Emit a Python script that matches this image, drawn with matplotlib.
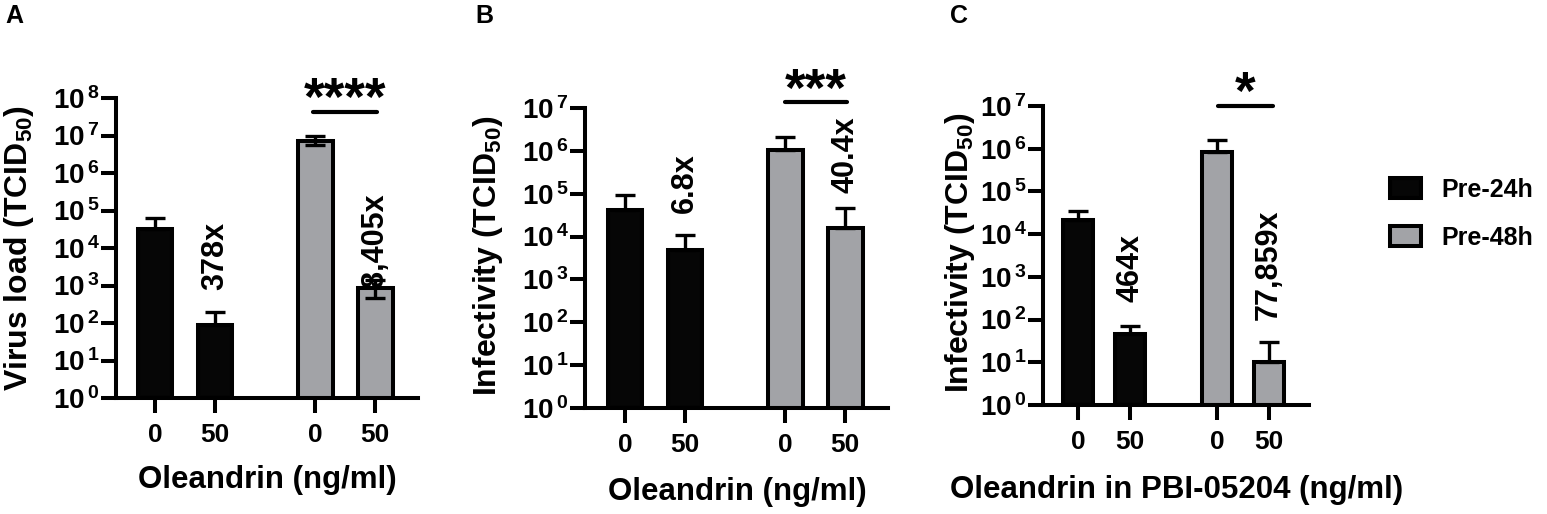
import matplotlib
matplotlib.use("Agg")
import matplotlib.pyplot as plt
import numpy as np
from matplotlib.patches import Patch
from matplotlib.ticker import FixedLocator, FuncFormatter, NullLocator

plt.rcParams["font.family"] = ["Liberation Sans", "DejaVu Sans"]
plt.rcParams["font.weight"] = "bold"
plt.rcParams["mathtext.fontset"] = "custom"
plt.rcParams["mathtext.rm"] = "Liberation Sans:bold"
plt.rcParams["mathtext.it"] = "Liberation Sans:bold"
plt.rcParams["mathtext.bf"] = "Liberation Sans:bold"
plt.rcParams["mathtext.sf"] = "Liberation Sans:bold"

# data
doses = ["0", "50", "0", "50"]
groups = ["Pre-24h", "Pre-48h"]
xpos = [0, 1, 2.667, 3.667]

a_mean = [3.3e4, 90, 7.1e6, 840]
a_low = [3.3e4, 90, 5.6e6, 470]
a_high = [6.3e4, 200, 9.7e6, 1400]

b_mean = [4.2e4, 4.8e3, 1.07e6, 1.6e4]
b_low = [4.2e4, 4.8e3, 1.07e6, 1.6e4]
b_high = [9.1e4, 1.1e4, 2.1e6, 4.6e4]

c_mean = [2.1e4, 45, 8.5e5, 10.3]
c_low = [2.1e4, 45, 8.5e5, 10.3]
c_high = [3.4e4, 72, 1.6e6, 30]

a_fold = ["378x", "8,405x"]
b_fold = ["6.8x", "40.4x"]
c_fold = ["464x", "77,859x"]

BLACK = "#060606"
GREY = "#a2a3a7"
colors = [BLACK, BLACK, GREY, GREY]

W, H = 1547, 514
fig = plt.figure(figsize=(W / 100, H / 100), dpi=100)


def box(x0, y0, x1, y1):
    return [x0 / W, 1 - y1 / H, (x1 - x0) / W, (y1 - y0) / H]


def fx(x):
    return x / W


def fy(y):
    return 1 - y / H


panels = [
    dict(rect=box(116, 98, 418, 398), top=8, mean=a_mean, low=a_low, high=a_high,
         fold=a_fold, fold_y=[10**2.88, 10**2.96], stars="****", star_y=10**7.55,
         line_y=10**7.63, line_x=(2.63, 3.70), xlim=(-0.65, 4.38),
         ylabel="Virus load (TCID$_{50}$)", ylab_xy=(19, 248),
         xlabel="Oleandrin (ng/ml)", xlab_xy=(267, 480), letter="A", letter_xy=(5, 4)),
    dict(rect=box(585, 108, 888, 408), top=7, mean=b_mean, low=b_low, high=b_high,
         fold=b_fold, fold_y=[10**4.56, 10**5.02], stars="***", star_y=10**7.04,
         line_y=10**7.15, line_x=(2.667, 3.695), xlim=(-0.667, 4.38),
         ylabel="Infectivity (TCID$_{50}$)", ylab_xy=(488, 256),
         xlabel="Oleandrin (ng/ml)", xlab_xy=(737, 492), letter="B", letter_xy=(475, 4)),
    dict(rect=box(1043, 106, 1309, 405), top=7, mean=c_mean, low=c_low, high=c_high,
         fold=c_fold, fold_y=[10**2.42, 10**1.99], stars="*", star_y=10**6.92,
         line_y=10**7.0, line_x=(2.69, 3.74), xlim=(-0.68, 4.44),
         ylabel="Infectivity (TCID$_{50}$)", ylab_xy=(960, 253),
         xlabel="Oleandrin in PBI-05204 (ng/ml)", xlab_xy=(1177, 490), letter="C",
         letter_xy=(950, 4)),
]

for p in panels:
    ax = fig.add_axes(p["rect"])
    ax.set_yscale("log")
    ax.set_ylim(1, 10 ** p["top"])
    ax.set_xlim(*p["xlim"])
    mean = np.array(p["mean"])
    ax.bar(xpos, mean - 1, bottom=1, width=0.58, color=colors,
           edgecolor="black", linewidth=2.9, zorder=2)
    yerr = [mean - np.array(p["low"]), np.array(p["high"]) - mean]
    ax.errorbar(xpos, mean, yerr=yerr, fmt="none", ecolor="black",
                elinewidth=2.4, capsize=7, capthick=2.4, zorder=3, clip_on=False)
    for xi, lab, yi in zip([xpos[1], xpos[3]], p["fold"], p["fold_y"]):
        ax.text(xi, yi, lab, rotation=90, ha="center", va="bottom",
                fontsize=22, fontweight="bold")
    ax.plot(p["line_x"], [p["line_y"]] * 2, color="black", lw=3,
            solid_capstyle="round", clip_on=False)
    ax.text(np.mean(p["line_x"]), p["star_y"], p["stars"], ha="center",
            va="baseline", fontsize=38, fontweight="bold", clip_on=False)

    for s in ["top", "right"]:
        ax.spines[s].set_visible(False)
    for s in ["left", "bottom"]:
        ax.spines[s].set_linewidth(2.9)
    ax.yaxis.set_major_locator(FixedLocator([10.0**k for k in range(p["top"] + 1)]))
    ax.yaxis.set_minor_locator(NullLocator())
    ax.yaxis.set_major_formatter(FuncFormatter(lambda v, pos: r"$10^{\,%d}$" % round(np.log10(v))))
    ax.set_xticks(xpos, doses)
    ax.tick_params(width=2.9, length=11, direction="out")
    ax.tick_params(axis="y", labelsize=20, pad=1)
    ax.tick_params(axis="x", labelsize=19, pad=7)
    ax.patch.set_visible(False)

    fig.text(fx(p["ylab_xy"][0]), fy(p["ylab_xy"][1]), p["ylabel"], rotation=90,
             ha="center", va="center", fontsize=23, fontweight="bold")
    fig.text(fx(p["xlab_xy"][0]), fy(p["xlab_xy"][1]), p["xlabel"],
             ha="center", va="center", fontsize=22.5, fontweight="bold")
    fig.text(fx(p["letter_xy"][0]), fy(p["letter_xy"][1]), p["letter"],
             ha="left", va="top", fontsize=18, fontweight="bold")

handles = [Patch(facecolor=BLACK, edgecolor="black", linewidth=2.9),
           Patch(facecolor=GREY, edgecolor="black", linewidth=2.9)]
fig.legend(handles, groups, loc="upper left", bbox_to_anchor=(fx(1390), fy(178)),
           frameon=False, fontsize=18, handlelength=1.25, handleheight=0.85,
           handletextpad=0.8, labelspacing=0.95, borderpad=0, borderaxespad=0)

fig.savefig("out.png", dpi=100)
